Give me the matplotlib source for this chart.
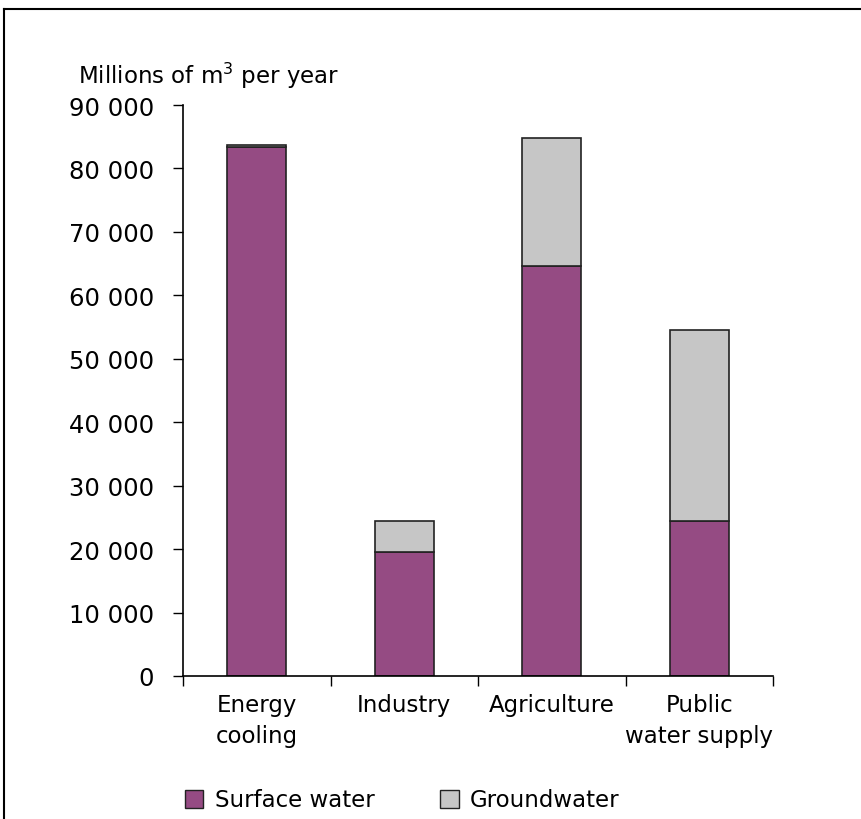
import matplotlib.pyplot as plt
from matplotlib.patches import Rectangle
from matplotlib.lines import Line2D

# water abstraction by sector, millions of m3 per year
sectors = ["Energy\ncooling", "Industry", "Agriculture", "Public\nwater supply"]
surface_water = [83400, 19500, 64600, 24500]
groundwater = [300, 4900, 20200, 30000]
y_ticks = [0, 10000, 20000, 30000, 40000, 50000, 60000, 70000, 80000, 90000]

purple = "#954B83"
grey = "#C6C6C6"

plt.rcParams["font.family"] = "DejaVu Sans"

fig = plt.figure(figsize=(8.62, 8.2), dpi=100)
ax = fig.add_axes([0.2123, 0.1744, 0.6845, 0.6963])

x = range(len(sectors))
width = 0.4
ax.bar(x, surface_water, width, color=purple, edgecolor="#222222", linewidth=1.2,
       label="Surface water")
ax.bar(x, groundwater, width, bottom=surface_water, color=grey, edgecolor="#222222",
       linewidth=1.2, label="Groundwater")

ax.set_xlim(-0.5, len(sectors) - 0.5)
ax.set_ylim(0, 90000)

# y axis
ax.set_yticks(y_ticks)
ax.set_yticklabels(["{:,}".format(v).replace(",", " ") for v in y_ticks], fontsize=17.5)
ax.tick_params(axis="y", direction="out", length=7, width=1, pad=14)

# x axis: ticks at category boundaries, labels centred under bars
ax.set_xticks([i - 0.5 for i in range(len(sectors) + 1)])
ax.set_xticklabels([])
ax.set_xticks(list(x), minor=True)
ax.set_xticklabels(sectors, minor=True, fontsize=16.5, linespacing=1.45)
ax.tick_params(axis="x", which="major", direction="out", length=7, width=1)
ax.tick_params(axis="x", which="minor", length=0, pad=12)

for side in ["top", "right"]:
    ax.spines[side].set_visible(False)
for side in ["left", "bottom"]:
    ax.spines[side].set_linewidth(1.2)

fig.text(0.0905, 0.908, "Millions of m$^3$ per year", fontsize=16.5, va="center", ha="left")

# legend drawn manually to match the layout
fig.patches.append(Rectangle((0.2146, 0.0135), 0.021, 0.022, transform=fig.transFigure,
                             facecolor=purple, edgecolor="#222222", linewidth=1))
fig.text(0.249, 0.024, "Surface water", fontsize=16.5, va="center", ha="left")
fig.patches.append(Rectangle((0.511, 0.0135), 0.021, 0.022, transform=fig.transFigure,
                             facecolor=grey, edgecolor="#222222", linewidth=1))
fig.text(0.545, 0.024, "Groundwater", fontsize=16.5, va="center", ha="left")

# frame around the figure (top and left edges visible)
fig.lines.append(Line2D([0.005, 1.0], [0.988, 0.988], transform=fig.transFigure,
                        color="black", linewidth=1.5))
fig.lines.append(Line2D([0.005, 0.005], [0.0, 0.988], transform=fig.transFigure,
                        color="black", linewidth=1.5))

fig.savefig("out.png", dpi=100)
